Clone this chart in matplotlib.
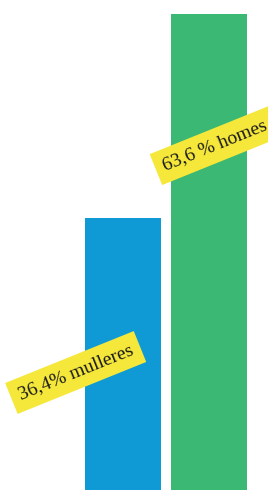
import matplotlib
matplotlib.use("Agg")
import matplotlib.pyplot as plt

# data
categories = ["mulleres", "homes"]
shares = [36.4, 63.6]
labels = ["36,4% mulleres", "63,6 % homes"]
colors = ["#0f9ad6", "#3bb873"]

fig = plt.figure(figsize=(2.68, 4.9), dpi=100)
ax = fig.add_axes([0, 0, 1, 1])

x = range(len(categories))
ax.bar(x, shares, width=0.884, color=colors)

# label anchors (layout only)
label_pos = [(-0.55, 15.7), (1.07, 46.0)]
for (lx, ly), txt in zip(label_pos, labels):
    ax.text(lx, ly, txt, rotation=22, ha="center", va="center",
            family="Liberation Serif", fontsize=14, color="#1a1a1a",
            rotation_mode="anchor", clip_on=False,
            bbox=dict(boxstyle="square,pad=0.42", fc="#f5e83a", ec="none"))

ax.set_xlim(-1.43, 1.686)
ax.set_ylim(0, 65.47)
ax.axis("off")

fig.savefig("out.png", dpi=100)
